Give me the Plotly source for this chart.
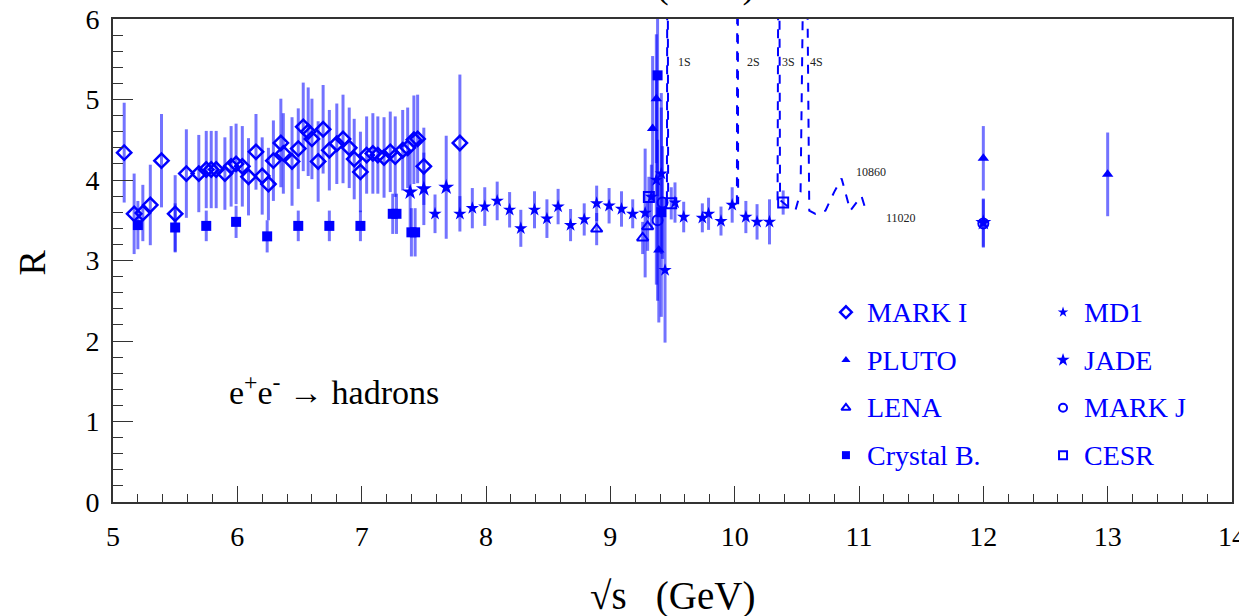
import plotly.graph_objects as go

# ---------------- data ----------------
markI_x = [5.09, 5.17, 5.24, 5.30, 5.39, 5.50, 5.59, 5.69, 5.75, 5.79, 5.83, 5.90, 5.95, 5.99,
           6.04, 6.09, 6.15, 6.20, 6.25, 6.29, 6.35, 6.37, 6.44, 6.49, 6.53, 6.57, 6.60, 6.65,
           6.69, 6.74, 6.80, 6.85, 6.90, 6.94, 6.99, 7.04, 7.09, 7.13, 7.18, 7.23, 7.27, 7.33,
           7.37, 7.42, 7.45, 7.50, 7.79]
markI_y = [4.34, 3.58, 3.59, 3.69, 4.24, 3.58, 4.08, 4.08, 4.13, 4.13, 4.13, 4.08, 4.17, 4.20,
           4.17, 4.04, 4.35, 4.05, 3.95, 4.24, 4.46, 4.33, 4.23, 4.39, 4.66, 4.60, 4.51, 4.23,
           4.63, 4.37, 4.45, 4.51, 4.40, 4.26, 4.10, 4.31, 4.33, 4.31, 4.28, 4.35, 4.29, 4.37,
           4.40, 4.50, 4.51, 4.17, 4.46]
markI_e = [0.62, 0.50, 0.35, 0.50, 0.58, 0.48, 0.55, 0.48, 0.48, 0.48, 0.48, 0.45, 0.50, 0.50,
           0.50, 0.48, 0.47, 0.48, 0.45, 0.50, 0.55, 0.50, 0.55, 0.50, 0.55, 0.55, 0.50, 0.50,
           0.55, 0.50, 0.50, 0.55, 0.50, 0.50, 0.50, 0.48, 0.50, 0.48, 0.50, 0.50, 0.50, 0.50,
           0.50, 0.55, 0.55, 0.48, 0.85]

md1_x = [7.59, 7.79, 7.89, 7.99, 8.09, 8.19, 8.28, 8.39, 8.49, 8.58, 8.68, 8.79, 8.89, 8.99,
         9.09, 9.18, 9.28, 9.33, 9.37, 9.41, 9.44, 9.52, 9.59, 9.74, 9.79, 9.89, 9.98, 10.09,
         10.18, 10.28]
md1_y = [3.58, 3.58, 3.65, 3.67, 3.74, 3.63, 3.40, 3.63, 3.52, 3.67, 3.44, 3.51, 3.71, 3.68,
         3.64, 3.58, 3.59, 3.79, 4.00, 4.08, 2.88, 3.72, 3.54, 3.53, 3.58, 3.49, 3.69, 3.54,
         3.48, 3.48]
md1_e = [0.24, 0.22, 0.25, 0.24, 0.24, 0.22, 0.23, 0.23, 0.24, 0.22, 0.20, 0.20, 0.22, 0.22,
         0.22, 0.18, 0.80, 0.40, 1.30, 1.00, 0.90, 0.25, 0.19, 0.18, 0.20, 0.18, 0.22, 0.20,
         0.22, 0.28]

pluto_x = [9.34, 9.37, 9.39, 12.0, 13.0]
pluto_y = [4.64, 5.01, 3.13, 4.27, 4.07]
pluto_e = [0.90, 0.80, 0.90, 0.40, 0.52]

jade_x = [7.39, 7.50, 7.68, 12.0]
jade_y = [3.85, 3.89, 3.91, 3.47]
jade_e = [0.50, 0.45, 0.64, 0.30]

lena_x = [8.89, 9.26, 9.30]
lena_y = [3.39, 3.28, 3.42]
lena_e = [0.20, 0.20, 0.30]

markJ_x = [9.38, 9.42, 12.0]
markJ_y = [3.50, 3.72, 3.46]
markJ_e = [1.00, 0.70, 0.30]

cb_x = [5.20, 5.50, 5.75, 5.99, 6.24, 6.49, 6.74, 6.99, 7.25, 7.28, 7.40, 7.43, 9.38, 9.41]
cb_y = [3.44, 3.41, 3.43, 3.48, 3.30, 3.43, 3.43, 3.43, 3.58, 3.58, 3.35, 3.35, 5.30, 3.60]
cb_e = [0.30, 0.30, 0.19, 0.20, 0.20, 0.19, 0.19, 0.19, 0.25, 0.25, 0.30, 0.30, 1.50, 1.30]

cesr_x = [9.31, 9.49, 10.39]
cesr_y = [3.79, 3.71, 3.72]
cesr_e = [0.25, 0.20, 0.15]

# resonance curve (None = gap between drawn pieces)
curve_x = [9.455, 9.460, 9.465, None, 10.018, 10.023, 10.028, None,
           10.345, 10.355, 10.365, 10.42, 10.49, 10.53, 10.570, 10.60, 10.65, 10.73,
           10.80, 10.86, 10.93, 10.97, 11.02, 11.05, 11.09]
curve_y = [3.75, 9.0, 3.75, None, 3.70, 9.0, 3.70, None,
           3.75, 9.0, 3.75, 3.68, 3.63, 3.85, 9.0, 3.62, 3.58, 3.62,
           3.85, 4.02, 3.62, 3.70, 3.80, 3.65, 3.60]

res_labels = ["1S", "2S", "3S", "4S", "10860", "11020"]
res_lab_x = [9.60, 10.15, 10.43, 10.66, 11.10, 11.34]
res_lab_y = [5.47, 5.47, 5.47, 5.47, 4.10, 3.53]

legend_names = ["MARK I", "MD1", "PLUTO", "JADE", "LENA", "MARK J", "Crystal B.", "CESR"]

# ---------------- styles ----------------
BLUE = "#0000ff"
ERR = "rgba(0,0,255,0.55)"
FONT = "Liberation Serif, Times New Roman, serif"

styles = {
    "MARK I": dict(symbol="diamond-open", size=11, line=dict(color=BLUE, width=2.5)),
    "MD1": dict(symbol="star", size=10, line=dict(width=0)),
    "PLUTO": dict(symbol="triangle-up", size=10, line=dict(width=0)),
    "JADE": dict(symbol="star", size=12, line=dict(width=0)),
    "LENA": dict(symbol="triangle-up-open", size=10, line=dict(color=BLUE, width=2)),
    "MARK J": dict(symbol="circle-open", size=10, line=dict(color=BLUE, width=2)),
    "Crystal B.": dict(symbol="square", size=10, line=dict(width=0)),
    "CESR": dict(symbol="square-open", size=10, line=dict(color=BLUE, width=2)),
}

series = {
    "MARK I": (markI_x, markI_y, markI_e),
    "MD1": (md1_x, md1_y, md1_e),
    "PLUTO": (pluto_x, pluto_y, pluto_e),
    "JADE": (jade_x, jade_y, jade_e),
    "LENA": (lena_x, lena_y, lena_e),
    "MARK J": (markJ_x, markJ_y, markJ_e),
    "Crystal B.": (cb_x, cb_y, cb_e),
    "CESR": (cesr_x, cesr_y, cesr_e),
}

fig = go.Figure()

fig.add_trace(go.Scatter(x=curve_x, y=curve_y, mode="lines", connectgaps=False,
                         line=dict(color=BLUE, width=2, dash="dash"), showlegend=False,
                         hoverinfo="skip"))

for name, (xs, ys, es) in series.items():
    fig.add_trace(go.Scatter(
        x=xs, y=ys, mode="markers", name=name, showlegend=False,
        marker=dict(color=BLUE, **styles[name]),
        error_y=dict(type="data", array=es, visible=True, color=ERR, thickness=3, width=0),
    ))

# manual two-column legend on an overlay axis in [0,1] units
leg_col_x = [0.655, 0.849]
leg_row_y = [0.393, 0.294, 0.195, 0.097]
for i, name in enumerate(legend_names):
    cx = leg_col_x[i % 2]
    cy = leg_row_y[i // 2]
    st = dict(styles[name])
    st["size"] = st["size"] - 2
    fig.add_trace(go.Scatter(x=[cx], y=[cy], xaxis="x2", yaxis="y2", mode="markers",
                             marker=dict(color=BLUE, **st), showlegend=False,
                             hoverinfo="skip"))
    fig.add_annotation(x=cx + 0.017, y=cy, xref="x2", yref="y2", text=name,
                       showarrow=False, xanchor="left", yanchor="middle",
                       font=dict(family=FONT, size=28, color=BLUE))

for t, lx, ly in zip(res_labels, res_lab_x, res_lab_y):
    fig.add_annotation(x=lx, y=ly, text=t, showarrow=False, yanchor="middle",
                       font=dict(family=FONT, size=12, color="#222222"))

fig.add_annotation(x=5.92, y=1.39, xanchor="left", yanchor="middle", showarrow=False,
                   text="e<sup>+</sup>e<sup>-</sup> \u2192 hadrons",
                   font=dict(family=FONT, size=34, color="black"))

# axis titles
TITLE = "\u221As&nbsp;&nbsp;&nbsp;(GeV)"
fig.add_annotation(x=0.5, y=-0.195, xref="paper", yref="paper", showarrow=False,
                   xanchor="center", yanchor="middle",
                   text=TITLE, font=dict(family=FONT, size=39, color="black"))
fig.add_annotation(x=0.5, y=1.022, xref="paper", yref="paper", showarrow=False,
                   xanchor="center", yanchor="bottom",
                   text=TITLE, font=dict(family=FONT, size=39, color="black"))
fig.add_annotation(x=-0.072, y=0.497, xref="paper", yref="paper", showarrow=False,
                   xanchor="center", yanchor="middle",
                   text="R", textangle=-90, font=dict(family=FONT, size=38, color="black"))

axis_common = dict(showline=True, linecolor="#333333", linewidth=2, mirror=True,
                   ticks="inside", tickcolor="#333333", showgrid=False, zeroline=False,
                   ticklabeloverflow="allow", automargin=False,
                   tickfont=dict(family=FONT, size=28, color="black"))

fig.update_layout(
    width=1239, height=616,
    margin=dict(l=113, r=7, t=19, b=114, autoexpand=False),
    paper_bgcolor="white", plot_bgcolor="white",
    xaxis=dict(range=[5, 14], dtick=1, tick0=5, ticklen=16, ticklabelstandoff=8,
               minor=dict(dtick=0.2, ticklen=8, ticks="inside", tickcolor="#333333"),
               **axis_common),
    yaxis=dict(range=[0, 6], dtick=1, tick0=0, ticklen=20, ticklabelstandoff=6,
               minor=dict(dtick=0.2, ticklen=10, ticks="inside", tickcolor="#333333"),
               **axis_common),
    xaxis2=dict(range=[0, 1], overlaying="x", visible=False),
    yaxis2=dict(range=[0, 1], overlaying="y", visible=False),
)

fig.write_html("out.html")
